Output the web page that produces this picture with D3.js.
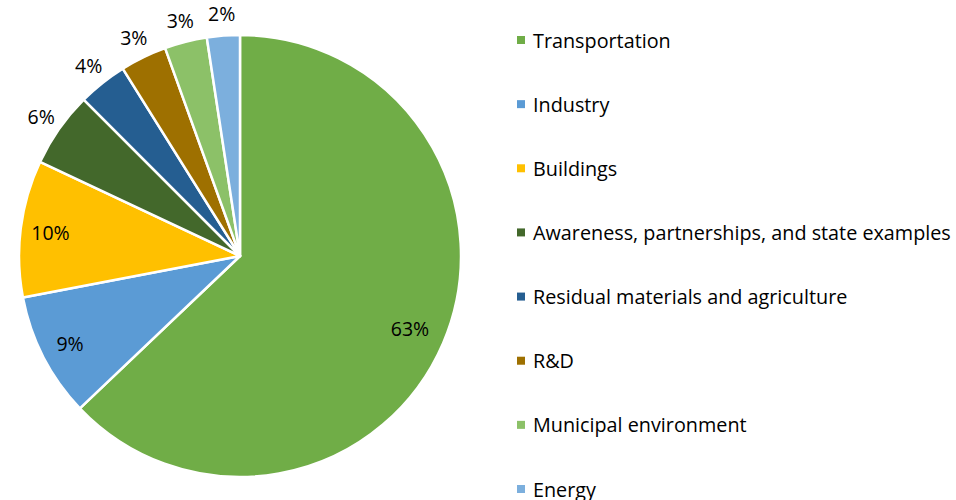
<!DOCTYPE html>
<html>
<head>
<meta charset="utf-8">
<script src="https://cdn.jsdelivr.net/npm/d3@7"></script>
<style>
  body { margin: 0; background: #fff; }
  text { font-family: "Open Sans", Lato, sans-serif; fill: #000; }
</style>
</head>
<body>
<div id="chart"></div>
<script>
const categories = [
  "Transportation",
  "Industry",
  "Buildings",
  "Awareness, partnerships, and state examples",
  "Residual materials and agriculture",
  "R&D",
  "Municipal environment",
  "Energy"
];
const shares = [62.9, 9.1, 10.0, 5.5, 3.6, 3.4, 3.1, 2.4];
const shareLabels = ["63%", "9%", "10%", "6%", "4%", "3%", "3%", "2%"];
const colors = ["#70ad47", "#5b9bd5", "#ffc000", "#43682b", "#255e91", "#9e7000", "#8cc168", "#7cafdd"];

const width = 956, height = 500;
const cx = 240, cy = 256, radius = 221;

const svg = d3.select("#chart")
  .append("svg")
  .attr("width", width)
  .attr("height", height);

const data = categories.map((name, i) => ({ name: name, value: shares[i], label: shareLabels[i] }));

const pie = d3.pie().sort(null).value(d => d.value);
const arcs = pie(data);

const arc = d3.arc().innerRadius(0).outerRadius(radius);
const color = d3.scaleOrdinal().domain(categories).range(colors);

const g = svg.append("g")
  .attr("transform", "translate(" + cx + "," + cy + ")");

g.selectAll("path")
  .data(arcs)
  .enter()
  .append("path")
  .attr("d", arc)
  .attr("fill", d => color(d.data.name))
  .attr("stroke", "#fff")
  .attr("stroke-width", 2.5)
  .attr("stroke-linejoin", "round");

// big slices get the label inside, small ones outside
const labelRadius = d => {
  if (d.data.value > 30) return 185;
  if (d.data.value >= 8) return 191;
  return 243;
};

g.selectAll("text.pct")
  .data(arcs)
  .enter()
  .append("text")
  .attr("class", "pct")
  .attr("transform", d => {
    const r = labelRadius(d);
    const lab = d3.arc().innerRadius(r).outerRadius(r);
    return "translate(" + lab.centroid(d) + ")";
  })
  .attr("text-anchor", "middle")
  .attr("dominant-baseline", "central")
  .style("font-size", "19.5px")
  .text(d => d.data.label);

// legend
const legendY = d3.scalePoint().domain(categories).range([40, 489]);

const legend = svg.append("g")
  .selectAll("g")
  .data(categories)
  .enter()
  .append("g")
  .attr("transform", d => "translate(517," + legendY(d) + ")");

legend.append("rect")
  .attr("x", 0)
  .attr("y", -4)
  .attr("width", 8)
  .attr("height", 8)
  .attr("fill", d => color(d));

legend.append("text")
  .attr("x", 16)
  .attr("y", 0)
  .attr("dominant-baseline", "central")
  .style("font-size", "19.8px")
  .text(d => d);
</script>
</body>
</html>
